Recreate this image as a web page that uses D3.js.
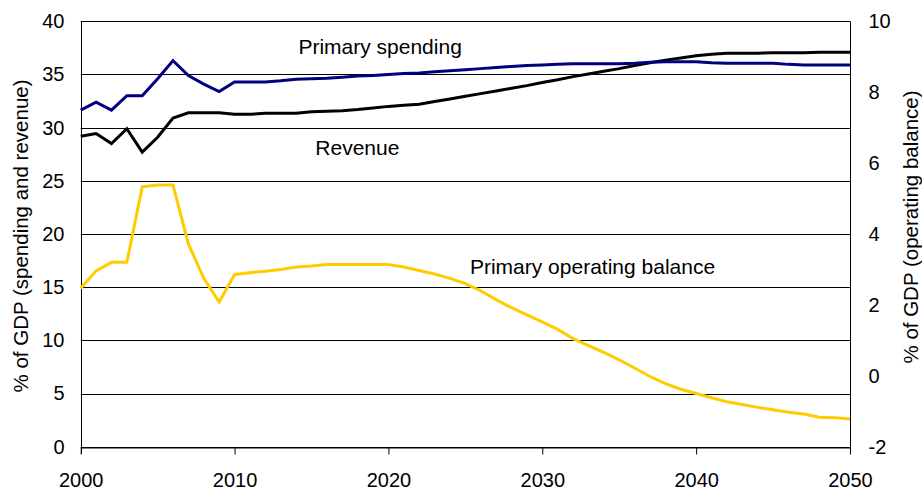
<!DOCTYPE html>
<html>
<head>
<meta charset="utf-8">
<script src="https://cdn.jsdelivr.net/npm/d3@7"></script>
<style>
    body { margin: 0; background: #fff; }
    text { font-family: "Liberation Sans", Arial, sans-serif; fill: #000; }
</style>
</head>
<body>
<div id="chart_div"></div>
<script>
// years 2000..2050
const years = d3.range(2000, 2051);

// % of GDP, left axis
const spending = [31.65, 32.4, 31.65, 33.0, 33.0, 34.6, 36.3, 34.9, 34.1, 33.4,
    34.3, 34.3, 34.3, 34.4, 34.55, 34.6, 34.65, 34.75, 34.85, 34.9,
    35.0, 35.1, 35.15, 35.25, 35.35, 35.45, 35.55, 35.65, 35.75, 35.85,
    35.9, 35.95, 36.0, 36.0, 36.0, 36.0, 36.05, 36.15, 36.2, 36.2,
    36.2, 36.1, 36.05, 36.05, 36.05, 36.05, 35.95, 35.9, 35.9, 35.9, 35.9];

const revenue = [29.2, 29.45, 28.5, 29.9, 27.7, 29.1, 30.9, 31.4, 31.4, 31.4,
    31.25, 31.25, 31.35, 31.35, 31.35, 31.5, 31.55, 31.6, 31.7, 31.85,
    32.0, 32.1, 32.2, 32.45, 32.7, 32.95, 33.2, 33.45, 33.7, 33.95,
    34.25, 34.5, 34.8, 35.05, 35.3, 35.55, 35.85, 36.1, 36.35, 36.55,
    36.75, 36.9, 37.0, 37.0, 37.0, 37.05, 37.05, 37.05, 37.1, 37.1, 37.1];

// % of GDP, right axis
const balance = [2.47, 2.96, 3.2, 3.2, 5.33, 5.38, 5.38, 3.72, 2.75, 2.08,
    2.86, 2.91, 2.95, 3.0, 3.07, 3.1, 3.14, 3.14, 3.14, 3.14,
    3.14, 3.07, 2.97, 2.87, 2.75, 2.6, 2.4, 2.15, 1.92, 1.72,
    1.52, 1.31, 1.05, 0.85, 0.66, 0.45, 0.22, -0.02, -0.22, -0.38,
    -0.5, -0.62, -0.73, -0.81, -0.89, -0.96, -1.03, -1.08, -1.17, -1.18, -1.22];

const xTicks = [2000, 2010, 2020, 2030, 2040, 2050];
const leftTicks = [0, 5, 10, 15, 20, 25, 30, 35, 40];
const rightTicks = [-2, 0, 2, 4, 6, 8, 10];

// series labels: [text, year, left-axis value]
const labels = [
    ["Primary spending", 2014.15, 36.97],
    ["Revenue", 2015.25, 27.4],
    ["Primary operating balance", 2025.3, 16.25]
];

const width = 922;
const height = 491;
const plotLeft = 80.7, plotRight = 850, plotTop = 21.3, plotBottom = 446.7;

const x = d3.scaleLinear().domain([2000, 2050]).range([plotLeft, plotRight]);
const yL = d3.scaleLinear().domain([0, 40]).range([plotBottom, plotTop]);
const yR = d3.scaleLinear().domain([-2, 10]).range([plotBottom, plotTop]);

const svg = d3.select("#chart_div")
    .append("svg")
    .attr("width", width)
    .attr("height", height);

const grid = (g) => g.append("g")
    .selectAll("line")
    .data(leftTicks)
    .enter()
    .append("line")
    .attr("x1", plotLeft)
    .attr("x2", plotRight)
    .attr("y1", d => Math.round(yL(d)) + 0.5)
    .attr("y2", d => Math.round(yL(d)) + 0.5)
    .attr("stroke", "#000")
    .attr("stroke-width", 1);

const xAxis = (g) => {
    const ax = g.append("g")
        .attr("transform", `translate(0,${Math.round(plotBottom) + 0.5})`)
        .call(d3.axisBottom(x).tickValues(xTicks).tickFormat(d => String(d)).tickSize(7).tickSizeOuter(0).tickPadding(18));
    ax.selectAll("text").style("font-size", "20px");
    ax.selectAll("line, path").attr("stroke", "#000");
};

const yAxisLeft = (g) => {
    const ax = g.append("g")
        .attr("transform", `translate(${Math.round(plotLeft) + 0.5},0)`)
        .call(d3.axisLeft(yL).tickValues(leftTicks).tickSize(0).tickPadding(17));
    ax.select(".domain").attr("stroke", "#000").attr("d", `M0,${plotTop}V${plotBottom + 7}`);
    ax.selectAll("text").style("font-size", "20px");
};

const yAxisRight = (g) => {
    const ax = g.append("g")
        .attr("transform", `translate(${Math.round(plotRight) + 0.5},0)`)
        .call(d3.axisRight(yR).tickValues(rightTicks).tickFormat(d => String(d)).tickSize(0).tickPadding(18));
    ax.select(".domain").attr("stroke", "#000").attr("d", `M0,${plotTop}V${plotBottom + 7}`);
    ax.selectAll("text").style("font-size", "20px");
};

const titles = (g) => {
    g.append("text")
        .attr("transform", `translate(28,236) rotate(-90)`)
        .attr("text-anchor", "middle")
        .style("font-size", "20.5px")
        .text("% of GDP (spending and revenue)");
    g.append("text")
        .attr("transform", `translate(918,227) rotate(-90)`)
        .attr("text-anchor", "middle")
        .style("font-size", "20.5px")
        .text("% of GDP (operating balance)");
};

const lines = (g) => {
    const lineL = d3.line().x((d, i) => x(years[i])).y(d => yL(d));
    const lineR = d3.line().x((d, i) => x(years[i])).y(d => yR(d));

    g.append("path")
        .datum(balance)
        .attr("fill", "none")
        .attr("stroke", "#FFCC00")
        .attr("stroke-width", 3)
        .attr("d", lineR);

    g.append("path")
        .datum(revenue)
        .attr("fill", "none")
        .attr("stroke", "#000")
        .attr("stroke-width", 3)
        .attr("d", lineL);

    g.append("path")
        .datum(spending)
        .attr("fill", "none")
        .attr("stroke", "#000080")
        .attr("stroke-width", 3)
        .attr("d", lineL);
};

const seriesLabels = (g) => g.append("g")
    .selectAll("text")
    .data(labels)
    .enter()
    .append("text")
    .attr("x", d => x(d[1]))
    .attr("y", d => yL(d[2]))
    .style("font-size", "21px")
    .text(d => d[0]);

svg.call(grid);
svg.call(xAxis);
svg.call(yAxisLeft);
svg.call(yAxisRight);
svg.call(lines);
svg.call(seriesLabels);
svg.call(titles);
</script>
</body>
</html>
